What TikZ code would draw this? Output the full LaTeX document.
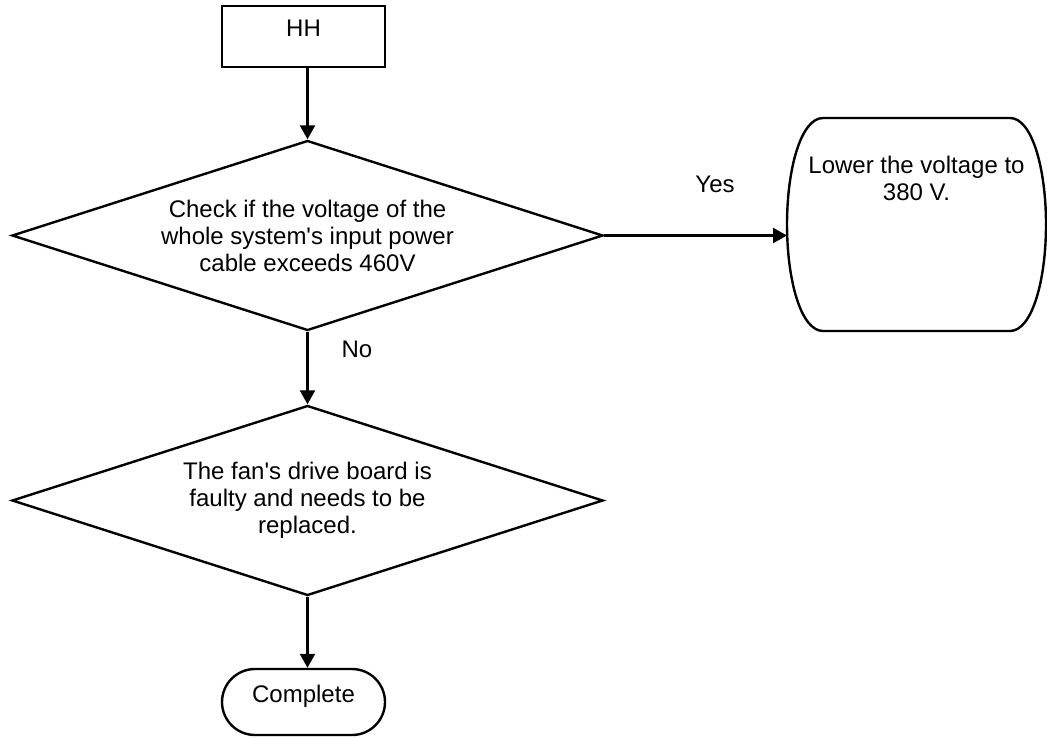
\documentclass[tikz,border=0pt]{standalone}
\usepackage{fontspec}
\setmainfont{Liberation Sans}
\usetikzlibrary{arrows.meta,shapes.geometric,calc}

\begin{document}
\begin{tikzpicture}[
    x=0.5pt,y=-0.5pt,
    font=\fontsize{12}{13.5}\selectfont,
    line/.style={line width=1.2pt,draw=black},
    box/.style={line,rectangle,minimum width=81.5pt,minimum height=30.5pt,inner sep=0pt,text height=8.6pt,text depth=8.6pt},
    term/.style={box,rounded corners=16.5pt,minimum height=33pt},
    decision/.style={line,diamond,aspect=3.127,inner sep=0pt,align=center,minimum width=295.5pt,minimum height=95pt},
    arrow/.style={line width=1.2pt,-{Triangle[length=7pt,width=7.5pt]}},
    note/.style={inner sep=1pt}
  ]
    \useasboundingbox (0,0) rectangle (1047,738);

    \node[box] (hh) at (303.5,36.5) {HH};
    \node[decision] (check) at (307.5,235.5)
      {Check if the voltage of the\\whole system\textquotesingle s input power\\cable exceeds 460V};
    \node[minimum width=129.5pt,minimum height=106.5pt,outer sep=0pt] (lower) at (916.5,224.5) {};
    \node[align=center,inner sep=0pt] (lowertext) at (916.5,178) {Lower the voltage to\\380 V.};
    \node[decision] (drive) at (307.5,500.5)
      {The fan\textquotesingle s drive board is\\faulty and needs to be\\replaced.};
    \node[term] (done) at (303.5,702) {Complete};

    % terminator with bowed sides
    \draw[line] ($(lower.north west)+(36,0)$) -- ($(lower.north east)+(-36,0)$)
      .. controls +(22,0) and +(0,-56) .. (lower.east)
      .. controls +(0,56) and +(22,0) .. ($(lower.south east)+(-36,0)$)
      -- ($(lower.south west)+(36,0)$)
      .. controls +(-22,0) and +(0,56) .. (lower.west)
      .. controls +(0,-56) and +(-22,0) .. ($(lower.north west)+(36,0)$) -- cycle;

    \draw[arrow] (check.north |- hh.south) -- (check.north);
    \draw[arrow] (check.east) -- (check.east -| lower.west);
    \node[note] (yes) at (715,184) {Yes};
    \draw[arrow] (check.south) -- (drive.north);
    \node[note] (no) at (357,349) {No};
    \draw[arrow] (drive.south) -- (drive.south |- done.north);
  \end{tikzpicture}
\end{document}
